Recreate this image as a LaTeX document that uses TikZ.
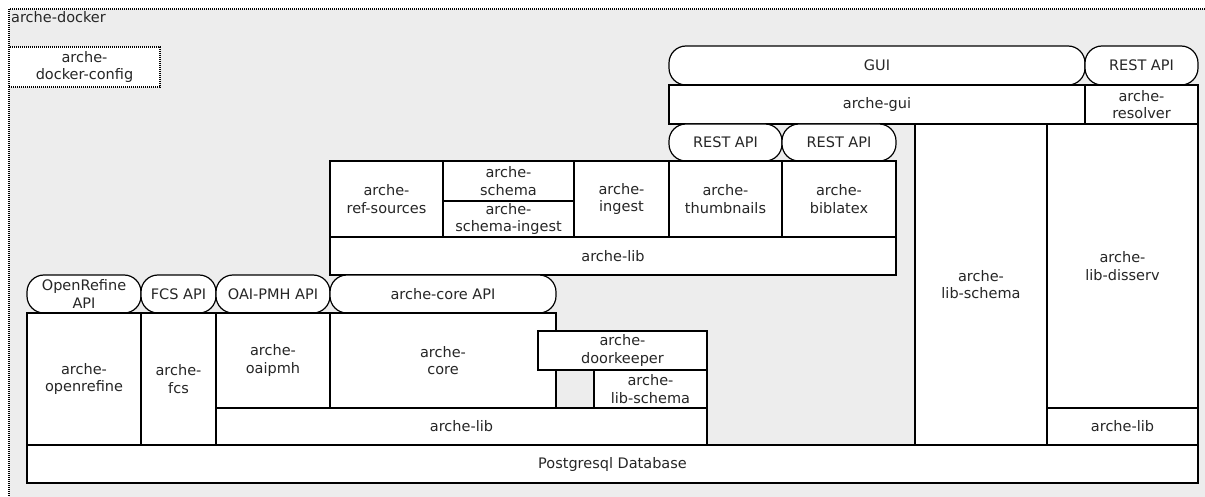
\documentclass[tikz,border=0pt]{standalone}
\usepackage{fontspec}
\setmainfont{DejaVu Sans}

% block from corner (x1,y1) to corner (x2,y2), text in the middle
\newcommand\blk[7][]{%
    \node[box, #1, minimum width={#5-#3}, minimum height={#6-#4}]
        (#2) at ({(#3+#5)/2},{(#4+#6)/2}) {#7};}

\begin{document}
\begin{tikzpicture}[x=1pt, y=-1pt,
        every node/.style={font=\fontsize{14.5}{17.5}\selectfont, align=center, text=black!85},
        box/.style={draw, line width=1.2pt, fill=white, inner sep=0pt},
        api/.style={rounded corners=17pt}]
    \useasboundingbox (0,0) rectangle (1205,497);
    \fill[white] (0,0) rectangle (1205,497);
    \draw[dash pattern=on 1pt off 1pt, line width=1.2pt, fill=black!7] (9,9) rectangle (1215,510);
    \node[anchor=north west, inner sep=0pt] (docker) at (11,11) {arche-docker};
    \blk[line width=1.2pt, dash pattern=on 1pt off 1pt]{config}{9}{47}{160}{87}{arche-\\docker-config}

    % gui and resolver
    \blk[api]{gui}{669}{46}{1085}{85}{GUI}
    \blk[api]{resapi}{1085}{46}{1198}{85}{REST API}
    \blk{archegui}{669}{85}{1085}{124}{arche-gui}
    \blk{resolver}{1085}{85}{1198}{124}{arche-\\resolver}
    \blk[api]{thumbapi}{669}{124}{782}{161}{REST API}
    \blk[api]{bibapi}{782}{124}{896}{161}{REST API}
    \blk{libschema}{915}{124}{1047}{445}{arche-\\lib-schema}
    \blk{disserv}{1047}{124}{1198}{408}{arche-\\lib-disserv}
    \blk{librgt}{1047}{408}{1198}{445}{arche-lib}

    % middle block
    \blk{refsrc}{330}{161}{443}{237}{arche-\\ref-sources}
    \blk{schema}{443}{161}{574}{201}{arche-\\schema}
    \blk{schemaing}{443}{201}{574}{237}{arche-\\schema-ingest}
    \blk{ingest}{574}{161}{669}{237}{arche-\\ingest}
    \blk{thumb}{669}{161}{782}{237}{arche-\\thumbnails}
    \blk{biblatex}{782}{161}{896}{237}{arche-\\biblatex}
    \blk{libmid}{330}{237}{896}{275}{arche-lib}

    % core block
    \blk[api]{orapi}{27}{275}{141}{313}{OpenRefine\\API}
    \blk[api]{fcsapi}{141}{275}{216}{313}{FCS API}
    \blk[api]{oaiapi}{216}{275}{330}{313}{OAI-PMH API}
    \blk[api]{coreapi}{330}{275}{556}{313}{arche-core API}
    \blk{openrefine}{27}{313}{141}{445}{arche-\\openrefine}
    \blk{fcs}{141}{313}{216}{445}{arche-\\fcs}
    \blk{oaipmh}{216}{313}{330}{408}{arche-\\oaipmh}
    \blk{core}{330}{313}{556}{408}{arche-\\core}
    \blk{doorkeeper}{538}{331}{707}{370}{arche-\\doorkeeper}
    \blk{libschemab}{594}{370}{707}{408}{arche-\\lib-schema}
    \blk{libbot}{216}{408}{707}{445}{arche-lib}

    \blk{pg}{27}{445}{1198}{483}{Postgresql Database}
\end{tikzpicture}
\end{document}
